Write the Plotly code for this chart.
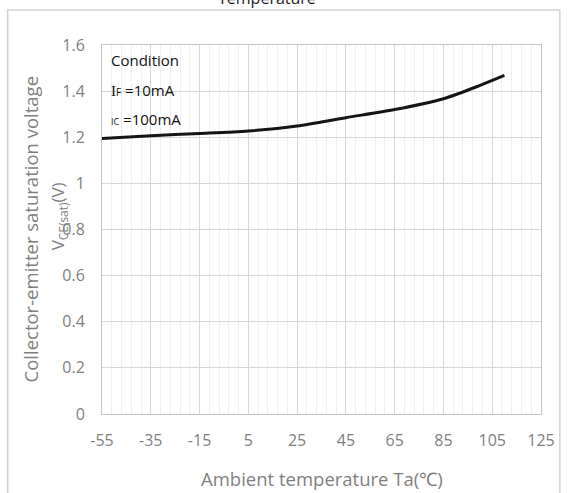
import plotly.graph_objects as go

# Data
temp_c = [-55, -35, -15, 5, 25, 45, 65, 85, 100, 110]
vce_sat = [1.195, 1.207, 1.216, 1.227, 1.249, 1.285, 1.32, 1.367, 1.425, 1.468]

x_ticks = [-55, -35, -15, 5, 25, 45, 65, 85, 105, 125]
y_ticks = [0, 0.2, 0.4, 0.6, 0.8, 1.0, 1.2, 1.4, 1.6]
y_tick_text = ["0", "0.2", "0.4", "0.6", "0.8", "1", "1.2", "1.4", "1.6"]

FONT = "Open Sans"
GRAY = "#7f7f7f"

fig = go.Figure()
fig.add_trace(go.Scatter(
    x=temp_c, y=vce_sat, mode="lines",
    line=dict(color="#151515", width=3, shape="spline", smoothing=0.8),
    showlegend=False, hoverinfo="skip",
))

L, R, T, B = 102, 23, 45, 79
W, H = 567, 493
pw, ph = W - L - R, H - T - B

def px(xp):
    return (xp - L) / pw

def py(yp):
    return (H - B - yp) / ph

fig.update_layout(
    width=W, height=H,
    margin=dict(l=L, r=R, t=T, b=B),
    paper_bgcolor="white", plot_bgcolor="white",
    font=dict(family=FONT, color=GRAY),
    xaxis=dict(
        range=[-55, 125], tickmode="array", tickvals=x_ticks,
        ticktext=[str(v) for v in x_ticks],
        tickfont=dict(size=16, color=GRAY, family=FONT),
        showgrid=True, gridcolor="#d6d6d6", gridwidth=1,
        minor=dict(dtick=4, tick0=-55, showgrid=True, gridcolor="#efefef", gridwidth=1),
        showline=True, linecolor="#c4c4c4", linewidth=1, mirror=True,
        zeroline=False, ticks="", ticklabelstandoff=12,
    ),
    yaxis=dict(
        range=[0, 1.6], tickmode="array", tickvals=y_ticks, ticktext=y_tick_text,
        tickfont=dict(size=16, color=GRAY, family=FONT),
        showgrid=True, gridcolor="#d6d6d6", gridwidth=1,
        showline=True, linecolor="#c4c4c4", linewidth=1, mirror=True,
        zeroline=False, ticks="", ticklabelstandoff=13,
    ),
)

annotations = [
    dict(text="Temperature", x=px(268), y=py(11), xref="paper", yref="paper",
         xanchor="center", yanchor="bottom", showarrow=False,
         font=dict(size=16, color="#222222", family=FONT)),
    dict(text="Collector-emitter saturation voltage", x=px(30), y=py(229),
         xref="paper", yref="paper", xanchor="center", yanchor="middle",
         textangle=-90, showarrow=False,
         font=dict(size=18.5, color=GRAY, family=FONT)),
    dict(text="V<sub>CE(sat)</sub>(V)", x=px(58), y=py(216),
         xref="paper", yref="paper", xanchor="center", yanchor="middle",
         textangle=-90, showarrow=False,
         font=dict(size=17, color=GRAY, family=FONT)),
    dict(text="Ambient temperature Ta(℃)", x=px(323), y=py(478),
         xref="paper", yref="paper", xanchor="center", yanchor="middle",
         showarrow=False, font=dict(size=18.5, color=GRAY, family=FONT)),
    dict(text="Condition", x=px(109), y=py(60), xref="paper", yref="paper",
         xanchor="left", yanchor="middle", showarrow=False,
         font=dict(size=15, color="#111111", family=FONT)),
    dict(text="<span style='font-family:Liberation Serif'>I</span><span style='font-size:10px'>F</span> =10mA",
         x=px(109), y=py(90), xref="paper", yref="paper",
         xanchor="left", yanchor="middle", showarrow=False,
         font=dict(size=15, color="#111111", family=FONT)),
    dict(text="<span style='font-size:9px'>IC</span> =100mA",
         x=px(109), y=py(119), xref="paper", yref="paper",
         xanchor="left", yanchor="middle", showarrow=False,
         font=dict(size=15, color="#111111", family=FONT)),
]
fig.update_layout(annotations=annotations)

fig.add_shape(type="rect", xref="paper", yref="paper",
              x0=px(7), x1=px(563), y0=py(520), y1=py(10),
              line=dict(color="#d2d2d2", width=1.5), fillcolor="rgba(0,0,0,0)",
              layer="below")

fig.write_html("out.html", config={"displayModeBar": False},
               post_script="document.body.style.margin='0';")
